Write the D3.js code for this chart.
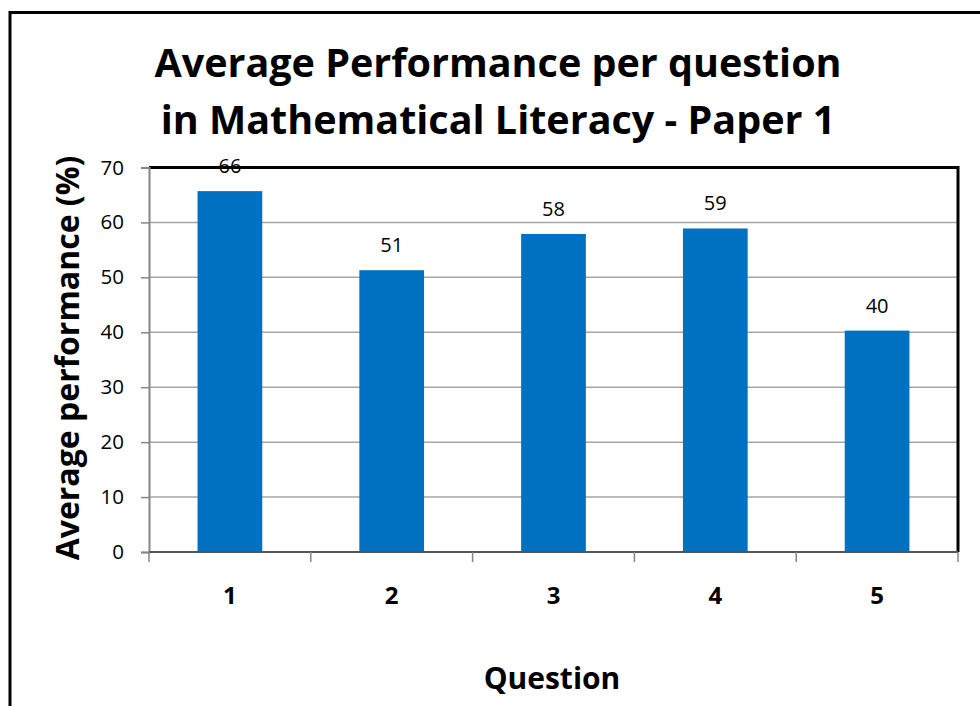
<!DOCTYPE html>
<html>
<head>
<meta charset="utf-8">
<script src="https://cdn.jsdelivr.net/npm/d3@7"></script>
<style>
  html, body { margin: 0; padding: 0; background: #fff; }
  svg { display: block; }
</style>
</head>
<body>
<svg id="chart" width="980" height="706"></svg>
<script>
var questions = ["1", "2", "3", "4", "5"];
var performance = [65.7, 51.3, 57.9, 58.9, 40.3];
var barLabels = ["66", "51", "58", "59", "40"];
var yTicks = [0, 10, 20, 30, 40, 50, 60, 70];

var fontFamily = "'Open Sans', 'Liberation Sans', sans-serif";
var svg = d3.select('#chart');

// outer frame, right and bottom run past the window
svg.append('rect')
  .attr('x', 10).attr('y', 12.5)
  .attr('width', 1000).attr('height', 1000)
  .attr('fill', 'none').attr('stroke', '#000').attr('stroke-width', 3);

var plot = { left: 149, right: 958, top: 167.5, bottom: 552 };

var x = d3.scaleBand().domain(questions).range([plot.left, plot.right]).paddingInner(0.6).paddingOuter(0.3);
var xBand = d3.scaleBand().domain(questions).range([plot.left, plot.right]);
var y = d3.scaleLinear().domain([0, 70]).range([plot.bottom, plot.top]);

// gridlines
svg.append('g')
  .selectAll('line')
  .data(yTicks.filter(d => d > 0 && d < 70))
  .enter()
  .append('line')
  .attr('x1', plot.left).attr('x2', plot.right)
  .attr('y1', d => y(d)).attr('y2', d => y(d))
  .attr('stroke', '#a6a6a6').attr('stroke-width', 1.5);

// top and right border of the plot area
svg.append('path')
  .attr('d', 'M' + plot.left + ',' + plot.top + 'H' + plot.right + 'V' + plot.bottom)
  .attr('fill', 'none').attr('stroke', '#000').attr('stroke-width', 3);

// bars
svg.append('g')
  .selectAll('rect')
  .data(performance)
  .enter()
  .append('rect')
  .attr('x', (d, i) => x(questions[i]))
  .attr('width', x.bandwidth())
  .attr('y', d => y(d))
  .attr('height', d => y(0) - y(d))
  .attr('fill', '#0070c0');

// value labels
svg.append('g')
  .selectAll('text')
  .data(performance)
  .enter()
  .append('text')
  .attr('x', (d, i) => x(questions[i]) + x.bandwidth() / 2)
  .attr('y', d => y(d) - 18)
  .attr('text-anchor', 'middle')
  .attr('font-family', fontFamily)
  .attr('font-size', 20)
  .attr('fill', '#000')
  .text((d, i) => barLabels[i]);

// y axis
var yAxis = svg.append('g')
  .attr('transform', 'translate(' + plot.left + ',0)')
  .call(d3.axisLeft(y).tickValues(yTicks).tickSize(8).tickPadding(17));
yAxis.select('.domain').attr('stroke', '#868686').attr('stroke-width', 2);
yAxis.selectAll('.tick line').attr('stroke', '#868686').attr('stroke-width', 1.5);
yAxis.selectAll('.tick text')
  .attr('font-family', fontFamily).attr('font-size', 20.5).attr('fill', '#000');

// x axis, ticks at category boundaries
var xAxis = svg.append('g')
  .attr('transform', 'translate(0,' + plot.bottom + ')');
xAxis.append('line')
  .attr('x1', plot.left).attr('x2', plot.right)
  .attr('stroke', '#555').attr('stroke-width', 2);
var boundaries = questions.map(q => xBand(q)).concat([plot.right]);
xAxis.selectAll('.bt')
  .data(boundaries)
  .enter()
  .append('line')
  .attr('x1', d => d).attr('x2', d => d)
  .attr('y1', 0).attr('y2', 10)
  .attr('stroke', '#868686').attr('stroke-width', 1.5);
xAxis.selectAll('text')
  .data(questions)
  .enter()
  .append('text')
  .attr('x', d => xBand(d) + xBand.bandwidth() / 2)
  .attr('y', 52)
  .attr('text-anchor', 'middle')
  .attr('font-family', fontFamily)
  .attr('font-weight', 'bold')
  .attr('font-size', 24)
  .attr('fill', '#000')
  .text(d => d);

// title
var title = svg.append('text')
  .attr('text-anchor', 'middle')
  .attr('font-family', fontFamily)
  .attr('font-weight', 'bold')
  .attr('font-size', 39.5)
  .attr('fill', '#000');
title.append('tspan').attr('x', 498).attr('y', 77).text('Average Performance per question');
title.append('tspan').attr('x', 498).attr('y', 134).text('in Mathematical Literacy - Paper 1');

// axis titles
svg.append('text')
  .attr('transform', 'translate(79,358) rotate(-90)')
  .attr('text-anchor', 'middle')
  .attr('font-family', fontFamily)
  .attr('font-weight', 'bold')
  .attr('font-size', 32)
  .attr('fill', '#000')
  .text('Average performance (%)');

svg.append('text')
  .attr('x', 552).attr('y', 689)
  .attr('text-anchor', 'middle')
  .attr('font-family', fontFamily)
  .attr('font-weight', 'bold')
  .attr('font-size', 30)
  .attr('fill', '#000')
  .text('Question');
</script>
</body>
</html>
